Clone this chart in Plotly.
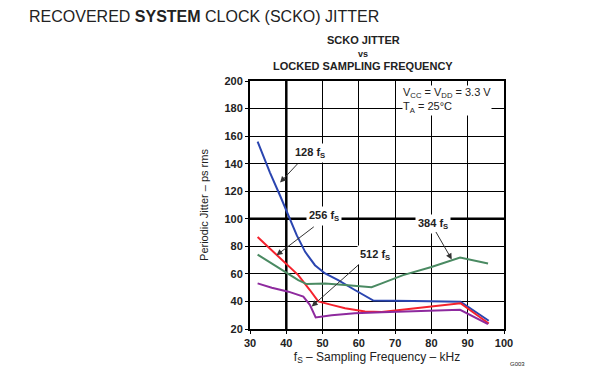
import plotly.graph_objects as go

# Data
fs_128 = [32.1, 35.5, 38.3, 40.6, 42.9, 45.2, 47.9, 50.7, 54.3, 58.9, 64.0, 75.0, 88.0, 95.8]
jit_128 = [156.0, 133.5, 116.7, 102.3, 87.9, 76.0, 66.3, 60.3, 55.5, 48.3, 40.6, 40.4, 39.8, 26.0]

fs_256 = [32.1, 34.1, 37.8, 40.6, 43.3, 46.5, 48.8, 52.5, 56.2, 61.7, 66.3, 75.0, 88.0, 95.8]
jit_256 = [86.7, 81.9, 72.3, 66.3, 59.1, 48.3, 40.0, 37.5, 35.1, 32.7, 32.4, 34.8, 38.7, 24.0]

fs_384 = [32.1, 36.0, 39.6, 43.3, 45.6, 50.7, 56.2, 63.5, 66.3, 72.2, 80.0, 87.9, 95.6]
jit_384 = [74.0, 67.5, 61.5, 55.5, 52.6, 53.1, 51.9, 50.3, 53.1, 59.1, 65.0, 71.8, 67.5]

fs_512 = [32.1, 36.0, 40.6, 44.7, 46.5, 48.1, 52.5, 58.9, 66.3, 75.0, 87.9, 95.6]
jit_512 = [53.1, 50.0, 47.1, 43.5, 37.5, 28.4, 29.9, 31.5, 32.2, 32.8, 33.9, 23.5]

x_ticks = [30, 40, 50, 60, 70, 80, 90, 100]
y_ticks = [20, 40, 60, 80, 100, 120, 140, 160, 180, 200]

series_names = ["128 f<sub>S</sub>", "256 f<sub>S</sub>", "384 f<sub>S</sub>", "512 f<sub>S</sub>"]
series_colors = ["#2a45b0", "#f5222d", "#4a8a62", "#8e2a9e"]

FONT = "Liberation Sans, Arial, sans-serif"

fig = go.Figure()
for xs, ys, name, col in zip([fs_128, fs_256, fs_384, fs_512],
                             [jit_128, jit_256, jit_384, jit_512],
                             series_names, series_colors):
    fig.add_trace(go.Scatter(x=xs, y=ys, mode="lines", name=name,
                             line=dict(color=col, width=2), showlegend=False))

# emphasized grid lines
fig.add_shape(type="line", x0=40, x1=40, y0=20, y1=200, xref="x", yref="y",
              line=dict(color="black", width=2.5), layer="below")
fig.add_shape(type="line", x0=30, x1=100, y0=100, y1=100, xref="x", yref="y",
              line=dict(color="black", width=2.5), layer="below")

# labels with arrows: (text, text_x, text_y, tip_x, tip_y, tail_x, tail_y)
labels = [
    (series_names[0], 46.5, 148, 38.3, 126.3, 43.5, 141),
    (series_names[1], 50.5, 102, 37.3, 73.5, 48.0, 95),
    (series_names[3], 64.4, 73.5, 47.0, 36.3, 60.3, 67.5),
    (series_names[2], 80.5, 96.5, 85.6, 70.5, 81.0, 91.5),
]
for txt, tx, ty, px, py, axx, ayy in labels:
    fig.add_annotation(x=tx, y=ty, text="<b>" + txt + "</b>", showarrow=False,
                       font=dict(family=FONT, size=11, color="#222"),
                       bgcolor="white", borderpad=2)
    fig.add_annotation(x=px, y=py, ax=axx, ay=ayy, xref="x", yref="y",
                       axref="x", ayref="y", text="", showarrow=True,
                       arrowhead=2, arrowsize=1.2, arrowwidth=1, arrowcolor="#333")

fig.add_annotation(x=72, y=197, xanchor="left", yanchor="top", align="left",
                   text="V<sub>CC</sub> = V<sub>DD</sub> = 3.3 V<br>T<sub>A</sub> = 25°C",
                   showarrow=False, font=dict(family=FONT, size=11, color="#222"),
                   bgcolor="white", borderpad=0)

fig.update_layout(
    width=601, height=374,
    margin=dict(l=250, r=97, t=81, b=43),
    paper_bgcolor="white", plot_bgcolor="white",
    font=dict(family=FONT, size=11, color="#222"),
)
fig.add_annotation(xref="paper", yref="paper", x=(27 - 250) / 254, y=(331 - 16) / 250,
                   xanchor="left", yanchor="middle",
                   text="RECOVERED <b>SYSTEM</b> CLOCK (SCKO) JITTER", showarrow=False,
                   font=dict(family=FONT, size=16, color="#222"))
fig.add_annotation(xref="paper", yref="paper", x=(363 - 250) / 254, y=(331 - 40) / 250,
                   xanchor="center", yanchor="middle",
                   text="<b>SCKO JITTER</b>", showarrow=False,
                   font=dict(family=FONT, size=11, color="#222"))
fig.add_annotation(xref="paper", yref="paper", x=(363 - 250) / 254, y=(331 - 54) / 250,
                   xanchor="center", yanchor="middle",
                   text="<b>vs</b>", showarrow=False,
                   font=dict(family=FONT, size=9, color="#222"))
fig.add_annotation(xref="paper", yref="paper", x=(363 - 250) / 254, y=(331 - 66) / 250,
                   xanchor="center", yanchor="middle",
                   text="<b>LOCKED SAMPLING FREQUENCY</b>", showarrow=False,
                   font=dict(family=FONT, size=11, color="#222"))
fig.add_annotation(xref="paper", yref="paper", x=(517 - 250) / 254, y=(331 - 366) / 250,
                   xanchor="center", yanchor="middle",
                   text="G003", showarrow=False,
                   font=dict(family=FONT, size=6, color="#222"))

fig.update_xaxes(range=[30, 100], tickvals=x_ticks, showgrid=True, gridcolor="black",
                 gridwidth=1, linecolor="black", linewidth=2, mirror=True,
                 ticks="outside", ticklen=3, tickcolor="black", zeroline=False,
                 tickfont=dict(family=FONT, size=11, color="#222", weight="bold"),
                 title=dict(text="f<sub>S</sub> – Sampling Frequency – kHz", standoff=4,
                            font=dict(family=FONT, size=12, color="#222")))
fig.update_yaxes(range=[20, 200], tickvals=y_ticks, showgrid=True, gridcolor="black",
                 gridwidth=1, linecolor="black", linewidth=2, mirror=True,
                 ticks="outside", ticklen=3, tickcolor="black", zeroline=False,
                 tickfont=dict(family=FONT, size=11, color="#222", weight="bold"),
                 title=dict(text="Periodic Jitter – ps rms", standoff=14,
                            font=dict(family=FONT, size=11, color="#222")))

fig.write_html("out.html", config={"displayModeBar": False},
               post_script="document.body.style.margin='0';")
